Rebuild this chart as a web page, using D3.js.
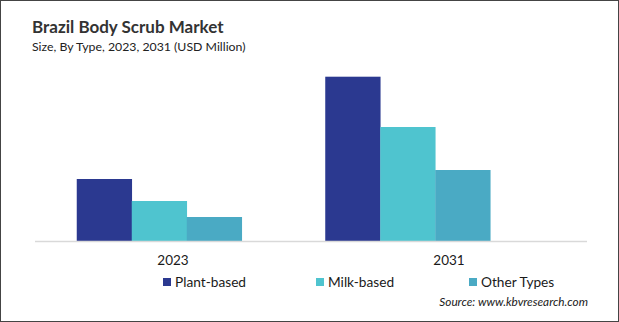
<!DOCTYPE html>
<html>
<head>
<meta charset="utf-8">
<script src="https://cdn.jsdelivr.net/npm/d3@7"></script>
<style>
    body { margin: 0; background: #fff; }
    text { font-family: Lato, "Open Sans", sans-serif; fill: #1a1a1a; }
    .title { font-weight: bold; font-size: 17px; fill: #333; }
    .subtitle { font-size: 12.3px; fill: #222; }
    .catLabel { font-size: 13.5px; }
    .legendLabel { font-size: 13.7px; }
    .source { font-size: 11.8px; font-style: italic; }
</style>
</head>
<body>
<svg id="chart" width="619" height="322"></svg>
<script>
//////////////////// DATA ////////////////////
const years = ["2023", "2031"];
const types = ["Plant-based", "Milk-based", "Other Types"];
// USD million
const plantBased = [62.0, 164.3];
const milkBased = [40.0, 114.0];
const otherTypes = [24.0, 71.0];
const colors = ["#2b3990", "#4fc4cf", "#4aaac4"];

const seriesValues = [plantBased, milkBased, otherTypes];

//////////////////// SIZES ////////////////////
const svg = d3.select("#chart");
const width = 619, height = 322;
const plot = { left: 35, right: 587, top: 61, bottom: 241 };

// frame
svg.append("rect")
    .attr("x", 0.5).attr("y", 0.5)
    .attr("width", width - 1).attr("height", height - 1)
    .attr("fill", "#fff")
    .attr("stroke", "#444")
    .attr("stroke-width", 1);

//////////////////// SCALES ////////////////////
// category labels sit on the full axis
const xLabel = d3.scaleBand()
    .domain(years)
    .range([plot.left, plot.right]);

// bar groups
const xGroup = d3.scaleBand()
    .domain(years)
    .range([plot.left, 532])
    .paddingInner(0.336)
    .paddingOuter(0.168);

const xInner = d3.scaleBand()
    .domain(types)
    .range([0, xGroup.bandwidth()]);

const y = d3.scaleLinear()
    .domain([0, 180])
    .range([plot.bottom, plot.top]);

//////////////////// BARS ////////////////////
const rows = years.map((yr, i) => ({
    year: yr,
    values: types.map((t, j) => ({ type: t, value: seriesValues[j][i], color: colors[j] }))
}));

const groups = svg.selectAll(".group")
    .data(rows)
    .enter()
    .append("g")
    .attr("class", "group")
    .attr("transform", d => `translate(${xGroup(d.year)},0)`);

groups.selectAll("rect")
    .data(d => d.values)
    .enter()
    .append("rect")
    .attr("x", d => xInner(d.type))
    .attr("y", d => y(d.value))
    .attr("width", xInner.bandwidth() + 0.3)
    .attr("height", d => y(0) - y(d.value))
    .attr("fill", d => d.color);

//////////////////// AXIS ////////////////////
svg.append("line")
    .attr("x1", plot.left).attr("x2", plot.right)
    .attr("y1", y(0) + 0.5).attr("y2", y(0) + 0.5)
    .attr("stroke", "#d9d9d9")
    .attr("stroke-width", 1.3);

svg.selectAll(".catLabel")
    .data(years)
    .enter()
    .append("text")
    .attr("class", "catLabel")
    .attr("x", d => xLabel(d) + xLabel.bandwidth() / 2)
    .attr("y", 265)
    .attr("text-anchor", "middle")
    .text(d => d);

//////////////////// TITLES ////////////////////
svg.append("text")
    .attr("class", "title")
    .attr("x", 32).attr("y", 33)
    .text("Brazil Body Scrub Market");

svg.append("text")
    .attr("class", "subtitle")
    .attr("x", 32).attr("y", 51)
    .text("Size, By Type, 2023, 2031 (USD Million)");

//////////////////// LEGEND ////////////////////
const legendX = d3.scalePoint()
    .domain(types)
    .range([163, 469]);

const legend = svg.selectAll(".legendItem")
    .data(types)
    .enter()
    .append("g")
    .attr("class", "legendItem")
    .attr("transform", d => `translate(${legendX(d)},278)`);

legend.append("rect")
    .attr("width", 8).attr("height", 8)
    .attr("fill", (d, i) => colors[i]);

legend.append("text")
    .attr("class", "legendLabel")
    .attr("x", 12).attr("y", 8.5)
    .text(d => d);

//////////////////// SOURCE ////////////////////
svg.append("text")
    .attr("class", "source")
    .attr("x", 588).attr("y", 306)
    .attr("text-anchor", "end")
    .text("Source: www.kbvresearch.com");
</script>
</body>
</html>
